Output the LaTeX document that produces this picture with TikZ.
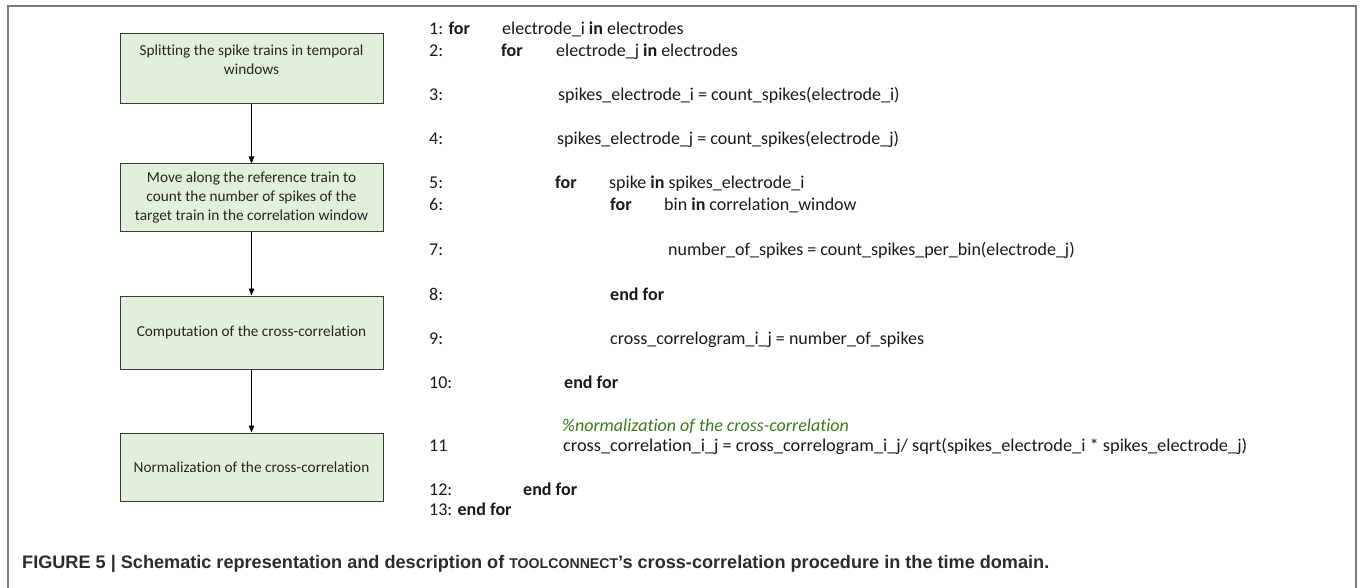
\documentclass[tikz,border=0pt]{standalone}
\usepackage{fontspec}
\setmainfont{Carlito}[Ligatures=NoCommon]
\newfontfamily\capfont{Liberation Sans}
\usetikzlibrary{arrows.meta}
\definecolor{boxfill}{HTML}{E2EFDA}
\definecolor{boxline}{HTML}{3A3A3A}
\definecolor{framecol}{HTML}{7A7A7A}
\definecolor{cmtgreen}{HTML}{3B7A1E}
\definecolor{captxt}{HTML}{2B2B2B}
\begin{document}
\begin{tikzpicture}[x=1pt,y=-1pt,
  flowbox/.style={draw=boxline, line width=1pt, fill=boxfill, minimum width=263pt,
    inner sep=0pt, align=center, font=\fontsize{15.3}{19}\selectfont, text=black!85},
  flowarrow/.style={-{Triangle[length=7pt,width=5.5pt]}, line width=0.9pt, black},
  code/.style={anchor=base west, inner sep=0pt, font=\fontsize{18}{22}\selectfont, text=black!90},
  cmt/.style={anchor=base west, inner sep=0pt, font=\fontsize{18}{22}\selectfont\itshape, text=cmtgreen},
  caption/.style={anchor=base west, inner sep=0pt, text=captxt, font=\capfont\bfseries}]
\useasboundingbox (0,0) rectangle (1360,588);
\draw[framecol, line width=1.5pt] (8,588) -- (8,6) -- (1356,6) -- (1356,588);

% flow chart
\node[flowbox, minimum height=70pt] (b1) at (251.5,69)
  {Splitting the spike trains in temporal\\windows\\~};
\node[flowbox, minimum height=68pt] (b2) at (251.5,198)
  {Move along the reference train to\\count the number of spikes of the\\target train in the correlation window};
\node[flowbox, minimum height=73pt] (b3) at (251.5,332.5)
  {Computation of the cross-correlation};
\node[flowbox, minimum height=68pt] (b4) at (251.5,467)
  {Normalization of the cross-correlation};
\draw[flowarrow] (b1.south) -- (b2.north);
\draw[flowarrow] (b2.south) -- (b3.north);
\draw[flowarrow] (b3.south) -- (b4.north);

% pseudo code
\node[code] (n1) at (429,35) {1: \textbf{for}};
\node[code] (c1) at (502,35) {electrode\_i \textbf{in} electrodes};
\node[code] (n2) at (429,57) {2:};
\node[code] (k2) at (501,57) {\textbf{for}};
\node[code] (c2) at (556,57) {electrode\_j \textbf{in} electrodes};
\node[code] (n3) at (429,101) {3:};
\node[code] (c3) at (558,101) {spikes\_electrode\_i = count\_spikes(electrode\_i)};
\node[code] (n4) at (429,145) {4:};
\node[code] (c4) at (557,145) {spikes\_electrode\_j = count\_spikes(electrode\_j)};
\node[code] (n5) at (429,189) {5:};
\node[code] (k5) at (555,189) {\textbf{for}};
\node[code] (c5) at (609,189) {spike \textbf{in} spikes\_electrode\_i};
\node[code] (n6) at (429,211) {6:};
\node[code] (k6) at (610,211) {\textbf{for}};
\node[code] (c6) at (664,211) {bin \textbf{in} correlation\_window};
\node[code] (n7) at (429,255) {7:};
\node[code] (c7) at (668,255) {number\_of\_spikes = count\_spikes\_per\_bin(electrode\_j)};
\node[code] (n8) at (429,300) {8:};
\node[code] (k8) at (610,300) {\textbf{end for}};
\node[code] (n9) at (429,344) {9:};
\node[code] (c9) at (610,344) {cross\_correlogram\_i\_j = number\_of\_spikes};
\node[code] (n10) at (429,388) {10:};
\node[code] (k10) at (564,388) {\textbf{end for}};
\node[cmt] (cm) at (562,431) {\%normalization of the cross-correlation};
\node[code] (n11) at (429,451) {11};
\node[code] (c11) at (563,451) {\resizebox{684pt}{\height}{cross\_correlation\_i\_j = cross\_correlogram\_i\_j/ sqrt(spikes\_electrode\_i * spikes\_electrode\_j)}};
\node[code] (n12) at (429,495) {12:};
\node[code] (k12) at (523,495) {\textbf{end for}};
\node[code] (n13) at (429,515) {13: \textbf{end for}};

% caption
\node[caption] (cap) at (22,568) {\resizebox{1027pt}{!}{FIGURE 5 | Schematic representation and description of {\fontsize{7.8}{8}\selectfont TOOLCONNECT}’s cross-correlation procedure in the time domain.}};
\end{tikzpicture}
\end{document}
